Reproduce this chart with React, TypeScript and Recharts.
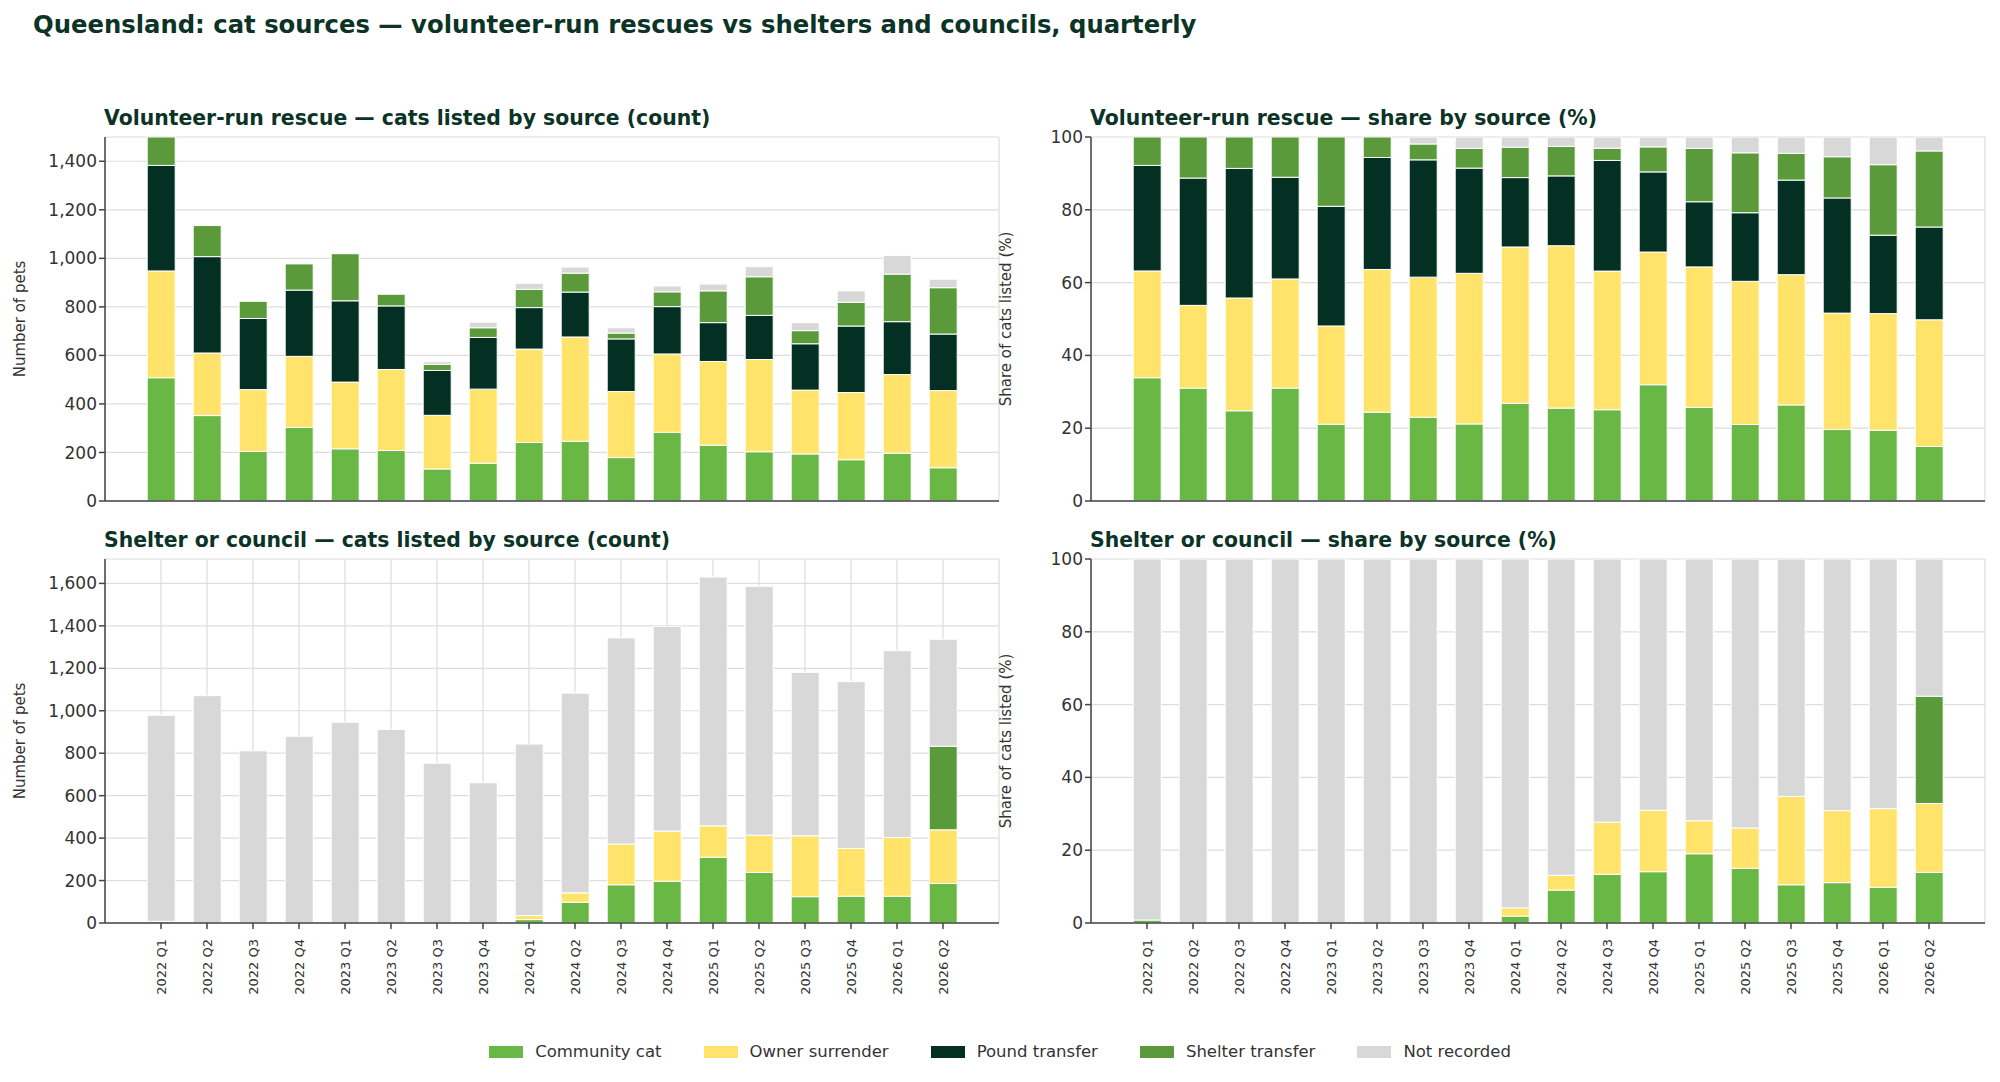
import React from 'react'
import { BarChart, Bar, XAxis, YAxis, CartesianGrid } from 'recharts'

const quarters = [
  '2022 Q1', '2022 Q2', '2022 Q3', '2022 Q4', '2023 Q1', '2023 Q2', '2023 Q3', '2023 Q4', '2024 Q1',
  '2024 Q2', '2024 Q3', '2024 Q4', '2025 Q1', '2025 Q2', '2025 Q3', '2025 Q4', '2026 Q1', '2026 Q2',
]

// volunteer-run rescue counts
const volCommunity = [508, 352, 204, 303, 215, 208, 132, 156, 241, 246, 179, 283, 230, 203, 194, 170, 197, 137]
const volOwner = [440, 258, 255, 293, 275, 334, 221, 305, 385, 430, 272, 323, 345, 380, 263, 277, 324, 318]
const volPound = [435, 397, 293, 273, 335, 262, 185, 213, 171, 185, 217, 195, 160, 182, 191, 274, 218, 233]
const volShelter = [117, 128, 71, 108, 194, 48, 25, 40, 75, 78, 24, 61, 131, 159, 54, 98, 196, 191]
const volNotRec = [0, 0, 0, 0, 0, 0, 11, 23, 25, 25, 22, 24, 28, 42, 33, 47, 77, 35]

// shelter or council counts
const shCommunity = [8, 0, 0, 0, 0, 0, 0, 0, 16, 98, 180, 197, 310, 238, 124, 126, 126, 186]
const shOwner = [0, 0, 0, 0, 0, 0, 0, 0, 19, 44, 192, 236, 148, 176, 287, 225, 277, 253]
const shPound = [0, 0, 0, 0, 0, 0, 0, 0, 0, 0, 0, 0, 0, 0, 0, 0, 0, 0]
const shShelter = [0, 0, 0, 0, 0, 0, 0, 0, 0, 0, 0, 0, 0, 0, 0, 0, 0, 394]
const shNotRec = [971, 1071, 811, 880, 946, 912, 753, 661, 808, 941, 971, 965, 1172, 1172, 770, 786, 880, 504]

const countTicks = [0, 200, 400, 600, 800, 1000, 1200, 1400]
const countTicksLow = [0, 200, 400, 600, 800, 1000, 1200, 1400, 1600]
const pctTicks = [0, 20, 40, 60, 80, 100]

const series = [
  { key: 'community', name: 'Community cat', color: '#69b745' },
  { key: 'owner', name: 'Owner surrender', color: '#ffe36a' },
  { key: 'pound', name: 'Pound transfer', color: '#033023' },
  { key: 'shelter', name: 'Shelter transfer', color: '#5a9a3b' },
  { key: 'notrec', name: 'Not recorded', color: '#d8d8d8' },
]

function build(cols: number[][], pct: boolean) {
  return quarters.map((q, i) => {
    const vals = cols.map((c) => c[i])
    const tot = vals.reduce((a, b) => a + b, 0)
    const row: any = { q }
    series.forEach((s, k) => {
      row[s.key] = pct ? (vals[k] / tot) * 100 : vals[k]
    })
    return row
  })
}

const volCounts = build([volCommunity, volOwner, volPound, volShelter, volNotRec], false)
const volPct = build([volCommunity, volOwner, volPound, volShelter, volNotRec], true)
const shCounts = build([shCommunity, shOwner, shPound, shShelter, shNotRec], false)
const shPct = build([shCommunity, shOwner, shPound, shShelter, shNotRec], true)

const font = 'DejaVu Sans, sans-serif'
const titleColor = '#0b3326'

function Panel(props: {
  data: any[]
  left: number
  top: number
  title: string
  yLabel: string
  domain: number[]
  ticks: number[]
  showX: boolean
  pct: boolean
}) {
  const { data, left, top, title, yLabel, domain, ticks, showX, pct } = props
  const xh = showX ? 80 : 10
  const plotH = 364
  return (
    <div style={{ position: 'absolute', left, top }}>
      <div
        style={{
          position: 'absolute',
          left: 104,
          top: -21,
          fontFamily: font,
          fontWeight: 'bold',
          fontSize: 20.4,
          color: titleColor,
          whiteSpace: 'nowrap',
        }}
      >
        {title}
      </div>
      <BarChart
        width={1010}
        height={10 + plotH + xh}
        data={data}
        margin={{ top: 10, right: 11, left: 0, bottom: 0 }}
        barCategoryGap="20%"
      >
        <CartesianGrid stroke="#dddddd" strokeWidth={1.2} />
        <XAxis
          dataKey="q"
          height={xh}
          interval={0}
          padding={{ left: 33, right: 33 }}
          stroke="#444"
          strokeWidth={1.5}
          tickSize={6}
          tick={
            showX
              ? ({ x, y, payload }: any) => (
                  <text
                    x={x}
                    y={y + 8}
                    transform={`rotate(-90 ${x} ${y + 8})`}
                    textAnchor="end"
                    dominantBaseline="central"
                    fontSize={13}
                    fontFamily={font}
                    fill="#333"
                  >
                    {payload.value}
                  </text>
                )
              : false
          }
        />
        <YAxis
          width={105}
          domain={domain}
          ticks={ticks}
          allowDataOverflow
          stroke="#444"
          strokeWidth={1.5}
          tickSize={6}
          tick={{ fontSize: 17, fill: '#333', fontFamily: font }}
          tickFormatter={(v: number) => (pct ? String(v) : v.toLocaleString('en-US'))}
          label={{
            value: yLabel,
            angle: -90,
            position: 'insideLeft',
            offset: 20,
            style: { textAnchor: 'middle', fontSize: 15, fill: '#333', fontFamily: font },
          }}
        />
        {series.map((s) => (
          <Bar
            key={s.key}
            dataKey={s.key}
            stackId="a"
            fill={s.color}
            stroke="#ffffff"
            strokeWidth={1}
            isAnimationActive={false}
          />
        ))}
      </BarChart>
    </div>
  )
}

export default function App() {
  return (
    <div style={{ position: 'absolute', left: 0, top: 0, width: 2000, height: 1082, background: '#fff' }}>
      <div
        style={{
          position: 'absolute',
          left: 33,
          top: 10,
          fontFamily: font,
          fontWeight: 'bold',
          fontSize: 24.3,
          color: titleColor,
        }}
      >
        Queensland: cat sources — volunteer-run rescues vs shelters and councils, quarterly
      </div>
      <Panel data={volCounts} left={0} top={127} title="Volunteer-run rescue — cats listed by source (count)"
        yLabel="Number of pets" domain={[0, 1500]} ticks={countTicks} showX={false} pct={false} />
      <Panel data={volPct} left={986} top={127} title="Volunteer-run rescue — share by source (%)"
        yLabel="Share of cats listed (%)" domain={[0, 100]} ticks={pctTicks} showX={false} pct />
      <Panel data={shCounts} left={0} top={549} title="Shelter or council — cats listed by source (count)"
        yLabel="Number of pets" domain={[0, 1715]} ticks={countTicksLow} showX pct={false} />
      <Panel data={shPct} left={986} top={549} title="Shelter or council — share by source (%)"
        yLabel="Share of cats listed (%)" domain={[0, 100]} ticks={pctTicks} showX pct />
      <div
        style={{
          position: 'absolute',
          top: 1042,
          left: 0,
          width: 2000,
          display: 'flex',
          justifyContent: 'center',
          gap: 42,
          fontFamily: font,
          fontSize: 16.5,
          color: '#333',
        }}
      >
        {series.map((s) => (
          <div key={s.key} style={{ display: 'flex', alignItems: 'center', gap: 12 }}>
            <span style={{ width: 34, height: 12, background: s.color, display: 'inline-block' }} />
            {s.name}
          </div>
        ))}
      </div>
    </div>
  )
}
